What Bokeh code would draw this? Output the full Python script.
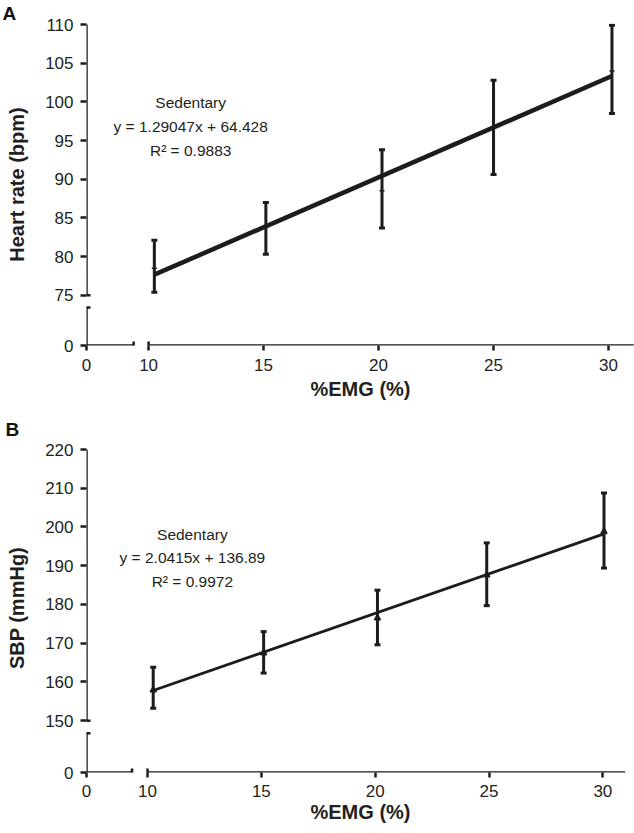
from bokeh.plotting import figure
from bokeh.models import (FixedTicker, Whisker, TeeHead, Arrow, Label,
                          ColumnDataSource, Range1d, NumeralTickFormatter)
from bokeh.layouts import column
from bokeh.embed import file_html
from bokeh.resources import INLINE

# ---------------- data ----------------
x_ticks = [10, 15, 20, 25, 30]
x_label = "%EMG (%)"

# Panel A: heart rate
hr_x = [10.25, 15.1, 20.15, 25.0, 30.15]
hr_mean = [78.5, 83.9, 88.5, 96.7, 104.0]
hr_upper = [82.1, 87.0, 93.8, 102.8, 109.9]
hr_lower = [75.4, 80.3, 83.7, 90.6, 98.5]
hr_ticks = [75, 80, 85, 90, 95, 100, 105, 110]
hr_slope, hr_intercept = 1.29047, 64.428
hr_texts = ["Sedentary", "y = 1.29047x + 64.428", "R\u00b2 = 0.9883"]
hr_ylabel = "Heart rate (bpm)"

# Panel B: systolic blood pressure
sbp_x = [10.25, 15.1, 20.1, 24.9, 30.05]
sbp_mean = [157.9, 167.5, 176.5, 187.6, 198.8]
sbp_upper = [163.8, 173.0, 183.7, 195.9, 208.8]
sbp_lower = [153.2, 162.3, 169.6, 179.7, 189.4]
sbp_ticks = [150, 160, 170, 180, 190, 200, 210, 220]
sbp_slope, sbp_intercept = 2.0415, 136.89
sbp_texts = ["Sedentary", "y = 2.0415x + 136.89", "R\u00b2 = 0.9972"]
sbp_ylabel = "SBP (mmHg)"

INK = "#1c1c1c"
TXT = "#231f20"
FONT = "Liberation Sans"


def panel(letter, xs, mean, upper, lower, yticks, slope, intercept, texts,
          ylabel, cfg):
    p = figure(width=634, height=cfg["height"],
               x_range=Range1d(cfg["x0"], cfg["x1"]),
               y_range=Range1d(cfg["y0"], cfg["y1"]),
               output_backend="svg", toolbar_location=None,
               min_border_left=cfg["bl"], min_border_right=0,
               min_border_top=cfg["bt"], min_border_bottom=cfg["bb"])
    p.title.text = letter
    p.title.text_font = FONT
    p.title.text_font_size = "19px"
    p.title.text_font_style = "bold"
    p.title.text_color = "#111111"
    p.title.align = "left"
    p.title.offset = cfg["toff"]
    p.title.standoff = cfg["tstand"]
    p.xgrid.visible = False
    p.ygrid.visible = False
    p.outline_line_color = None
    p.background_fill_color = "white"

    # axes: ticks & labels from bokeh, lines drawn as broken segments
    p.xaxis.ticker = FixedTicker(ticks=[cfg["x0"]] + x_ticks)
    p.xaxis.major_label_overrides = {cfg["x0"]: "0"}
    p.yaxis.ticker = FixedTicker(ticks=[cfg["y0"]] + yticks)
    p.yaxis.major_label_overrides = {cfg["y0"]: "0"}
    for ax in (p.xaxis, p.yaxis):
        ax.formatter = NumeralTickFormatter(format="0")
        ax.axis_line_color = None
        ax.major_tick_line_color = INK
        ax.major_tick_line_width = 2.5
        ax.major_tick_in = 0
        ax.minor_tick_line_color = None
        ax.major_label_text_font = FONT
        ax.major_label_text_font_size = "17px"
        ax.major_label_text_color = TXT
        ax.axis_label_text_font = FONT
        ax.axis_label_text_font_size = "20px"
        ax.axis_label_text_font_style = "bold"
        ax.axis_label_text_color = TXT
    p.xaxis.major_tick_out = 5
    p.yaxis.major_tick_out = 6
    p.xaxis.major_label_standoff = cfg["xs1"]
    p.xaxis.axis_label_standoff = cfg["xs2"]
    p.yaxis.major_label_standoff = 7
    p.yaxis.axis_label_standoff = 14
    p.xaxis.axis_label = x_label
    p.yaxis.axis_label = ylabel

    def seg(xa, ya, xb, yb, start=False, end=False):
        p.add_layout(Arrow(
            x_start=xa, y_start=ya, x_end=xb, y_end=yb,
            start=TeeHead(size=8, line_width=2.5, line_color=INK) if start else None,
            end=TeeHead(size=8, line_width=2.5, line_color=INK) if end else None,
            line_width=2.5, line_color=INK))

    seg(cfg["x0"], cfg["y0"], cfg["x0"], cfg["ybreak"], end=True)
    seg(cfg["x0"], yticks[0], cfg["x0"], yticks[-1], start=True)
    seg(cfg["x0"], cfg["y0"], cfg["xbreak"], cfg["y0"], end=True)
    seg(x_ticks[0], cfg["y0"], cfg["xend"], cfg["y0"], start=True)

    # fit line
    fx = [min(xs), max(xs)]
    fy = [slope * v + intercept for v in fx]
    p.line(fx, fy, line_width=cfg["fitw"], line_color=INK)

    # error bars
    src = ColumnDataSource(dict(x=xs, upper=upper, lower=lower))
    p.add_layout(Whisker(
        source=src, base="x", upper="upper", lower="lower",
        dimension="height", line_color=INK, line_width=3,
        upper_head=TeeHead(size=6, line_width=3, line_color=INK),
        lower_head=TeeHead(size=6, line_width=3, line_color=INK)))
    p.scatter(xs, mean, marker=cfg["marker"], size=cfg["msize"],
              line_width=1.5, line_color=INK, fill_color=INK)

    for t, ty in zip(texts, cfg["text_y"]):
        p.add_layout(Label(x=cfg["text_x"], y=ty, text=t, text_align="center",
                           text_baseline="middle", text_font=FONT,
                           text_font_size="15.5px", text_color=TXT))
    return p


cfg_a = dict(height=412, x0=7.3, x1=31.13, y0=68.5, y1=110.13,
             bl=86, bt=22, bb=67, xs1=8, xs2=4, ybreak=73.4, xbreak=9.35,
             xend=31.1, fitw=4.5, marker="dash", msize=5,
             text_x=11.83, text_y=[99.9, 96.78, 93.67], toff=-84, tstand=0)
cfg_b = dict(height=421, x0=7.32, x1=31.39, y0=136.64, y1=221.55,
             bl=84, bt=31, bb=61, xs1=7, xs2=1, ybreak=146.8, xbreak=9.32,
             xend=30.98, fitw=2.8, marker="triangle", msize=6,
             text_x=11.97, text_y=[198.05, 192.1, 185.9], toff=-81, tstand=7)

pa = panel("A", hr_x, hr_mean, hr_upper, hr_lower, hr_ticks, hr_slope,
           hr_intercept, hr_texts, hr_ylabel, cfg_a)
pb = panel("B", sbp_x, sbp_mean, sbp_upper, sbp_lower, sbp_ticks, sbp_slope,
           sbp_intercept, sbp_texts, sbp_ylabel, cfg_b)

layout = column(pa, pb, spacing=0)
open("out.html", "w").write(file_html(layout, INLINE))
